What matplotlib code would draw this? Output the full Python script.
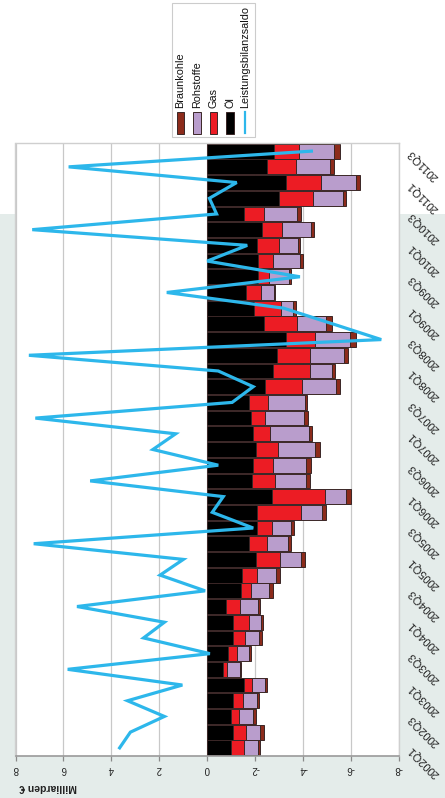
import matplotlib
matplotlib.use("Agg")
import matplotlib.pyplot as plt
from matplotlib.patches import Rectangle
from matplotlib.lines import Line2D
import numpy as np

plt.rcParams['font.family'] = ['Liberation Sans', 'DejaVu Sans']
plt.rcParams['axes.unicode_minus'] = False

# Quarters 2002Q1 .. 2011Q3
quarters = [
    "2002Q1", "2002Q2", "2002Q3", "2002Q4",
    "2003Q1", "2003Q2", "2003Q3", "2003Q4",
    "2004Q1", "2004Q2", "2004Q3", "2004Q4",
    "2005Q1", "2005Q2", "2005Q3", "2005Q4",
    "2006Q1", "2006Q2", "2006Q3", "2006Q4",
    "2007Q1", "2007Q2", "2007Q3", "2007Q4",
    "2008Q1", "2008Q2", "2008Q3", "2008Q4",
    "2009Q1", "2009Q2", "2009Q3", "2009Q4",
    "2010Q1", "2010Q2", "2010Q3", "2010Q4",
    "2011Q1", "2011Q2", "2011Q3",
]

# Energy import balances (Milliarden €)
oel = [-0.99, -1.10, -0.99, -1.07, -1.56, -0.65, -0.89, -1.07, -1.07, -0.79,
       -1.42, -1.47, -2.04, -1.74, -2.07, -2.07, -2.70, -1.90, -1.93, -2.04,
       -1.93, -1.82, -1.76, -2.44, -2.76, -2.94, -3.29, -2.38, -1.96, -1.62,
       -2.14, -2.11, -2.07, -2.31, -1.56, -3.01, -3.29, -2.49, -2.81]
gas = [-0.56, -0.55, -0.33, -0.44, -0.34, -0.17, -0.35, -0.51, -0.69, -0.58,
       -0.40, -0.63, -1.03, -0.75, -0.65, -1.87, -2.24, -0.96, -0.81, -0.93,
       -0.72, -0.62, -0.80, -1.53, -1.53, -1.35, -1.21, -1.36, -1.15, -0.62,
       -0.46, -0.65, -0.93, -0.83, -0.83, -1.42, -1.49, -1.22, -1.04]
rohstoffe = [-0.59, -0.56, -0.61, -0.56, -0.52, -0.55, -0.51, -0.60, -0.48, -0.74,
             -0.78, -0.80, -0.87, -0.90, -0.78, -0.87, -0.88, -1.26, -1.41, -1.56,
             -1.60, -1.60, -1.52, -1.41, -0.93, -1.42, -1.46, -1.22, -0.49, -0.57,
             -0.83, -1.12, -0.81, -1.19, -1.37, -1.25, -1.43, -1.44, -1.44]
braunkohle = [-0.07, -0.16, -0.10, -0.11, -0.09, -0.07, -0.07, -0.10, -0.11, -0.10,
              -0.16, -0.14, -0.14, -0.14, -0.13, -0.15, -0.18, -0.17, -0.18, -0.21,
              -0.14, -0.18, -0.11, -0.16, -0.11, -0.18, -0.25, -0.26, -0.11, -0.05,
              -0.06, -0.11, -0.07, -0.14, -0.18, -0.14, -0.17, -0.14, -0.25]
# Current account balance
saldo = [3.65, 3.20, 1.78, 3.32, 1.03, 5.82, -0.12, 2.65, 1.78, 5.43,
         0.08, 1.96, 0.99, 7.24, -1.93, -0.22, -0.68, 4.88, -0.47, 2.26,
         1.31, 7.17, -1.05, -1.93, -0.47, 7.44, -7.28, -5.25, -3.20, 1.68,
         -3.88, -0.01, -1.68, 7.30, -0.40, -0.10, -1.24, 5.78, -4.36]

value_ticks = [-8, -6, -4, -2, 0, 2, 4, 6, 8]

C_OEL, C_GAS, C_ROH, C_BRAUN = '#000000', '#ec1c24', '#b99dcc', '#8c2b1b'
C_LINE = '#2db7eb'
EDGE = '#3a2626'

W, H = 445, 798
fig = plt.figure(figsize=(W / 100, H / 100), dpi=100)
fig.patch.set_facecolor('white')

# tinted slide panel behind the chart
fig.patches.append(Rectangle((0, 0), 1, 1 - 214 / H, transform=fig.transFigure,
                             facecolor='#e4ecea', edgecolor='none', zorder=-10))

ax = fig.add_axes([15.5 / W, 1 - 755.7 / H, (398.5 - 15.5) / W, (755.7 - 143.3) / H])
ax.set_facecolor('white')

n = len(quarters)
ypos = np.arange(n)
left = np.zeros(n)
for vals, col in [(oel, C_OEL), (gas, C_GAS), (rohstoffe, C_ROH), (braunkohle, C_BRAUN)]:
    v = np.asarray(vals)
    ax.barh(ypos, v, left=left, height=0.94, color=col, edgecolor=EDGE,
            linewidth=0.7, zorder=2)
    left += v

ax.plot(saldo, ypos, color=C_LINE, lw=2.3, zorder=3, solid_joinstyle='miter')

ax.set_xlim(8, -8)
ax.set_ylim(-0.5, n - 0.5)
ax.set_xticks(value_ticks)
ax.set_xticklabels([str(t) for t in value_ticks], rotation=180, fontsize=7,
                   color='#222222')
ax.tick_params(axis='x', direction='out', length=3.5, width=0.9, color='#8a8a8a', pad=2.5)
ax.grid(axis='x', color='#c8c8c8', lw=0.9)
ax.set_axisbelow(True)

ax.yaxis.tick_right()
ax.set_yticks(ypos[::2])
ax.set_yticklabels(quarters[::2], rotation=135, rotation_mode='anchor',
                   ha='right', va='center', fontsize=8, color='#222222')
ax.tick_params(axis='y', length=0, pad=8)

for side in ['left', 'top', 'right']:
    ax.spines[side].set_color('#cfcfcf')
    ax.spines[side].set_linewidth(1.0)
ax.spines['bottom'].set_color('#9a9a9a')
ax.spines['bottom'].set_linewidth(1.2)

fig.text(48 / W, 1 - 786.5 / H, 'Milliarden €', rotation=180, fontsize=7.5,
         fontweight='bold', ha='center', va='center', color='#222222')

# legend panel with upright entries
fig.patches.append(Rectangle((172 / W, 1 - 137 / H), 83 / W, 134 / H,
                             transform=fig.transFigure, facecolor='white',
                             edgecolor='#cccccc', lw=0.8, zorder=5))
legend_items = [('Braunkohle', C_BRAUN), ('Rohstoffe', C_ROH), ('Gas', C_GAS),
                ('Öl', C_OEL), ('Leistungsbilanzsaldo', None)]
x_centers = [180.5, 197, 213.5, 230, 245.5]
for (name, col), xc in zip(legend_items, x_centers):
    if col is not None:
        fig.patches.append(Rectangle(((xc - 3.6) / W, 1 - 133.5 / H), 7.2 / W, 21.5 / H,
                                     transform=fig.transFigure, facecolor=col,
                                     edgecolor=EDGE, lw=0.7, zorder=6))
    else:
        fig.lines.append(Line2D([xc / W, xc / W], [1 - 133 / H, 1 - 112 / H],
                                transform=fig.transFigure, color=C_LINE, lw=1.6,
                                zorder=6))
    fig.text(xc / W, 1 - 108 / H, name, rotation=90, ha='center', va='bottom',
             fontsize=7.8, color='#111111', zorder=7)

fig.savefig('out.png', dpi=100)
